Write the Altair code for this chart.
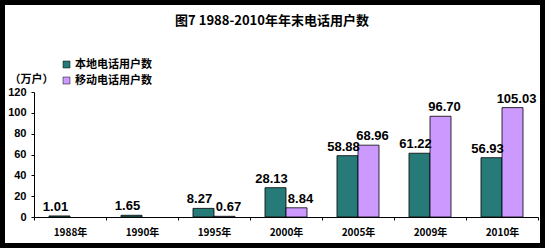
import altair as alt
import pandas as pd

title_text = "图7 1988-2010年年末电话用户数"
years = ["1988年", "1990年", "1995年", "2000年", "2005年", "2009年", "2010年"]
series = ["本地电话用户数", "移动电话用户数"]
fixed_line = [1.01, 1.65, 8.27, 28.13, 58.88, 61.22, 56.93]
mobile = [None, None, 0.67, 8.84, 68.96, 96.70, 105.03]
y_ticks = [0, 20, 40, 60, 80, 100, 120]
colors = ["#267a78", "#CC99FF"]

rows = []
for i, yr in enumerate(years):
    rows.append({"year": yr, "series": series[0], "value": fixed_line[i]})
    if mobile[i] is not None:
        rows.append({"year": yr, "series": series[1], "value": mobile[i]})
df = pd.DataFrame(rows)

NUM_FONT = "Liberation Sans"
CJK_FONT = "Noto Sans CJK SC"

x_enc = alt.X(
    "year:N", sort=years,
    scale=alt.Scale(paddingInner=0, paddingOuter=0),
    axis=alt.Axis(title=None, labelAngle=0, tickBand="extent", tickSize=3,
                  tickColor="black", domainColor="black", labelColor="black",
                  labelFont=CJK_FONT, labelFontSize=10, labelFontWeight="bold",
                  labelPadding=7, zindex=1),
)
xo_enc = alt.XOffset("series:N", sort=series,
                     scale=alt.Scale(paddingInner=0, paddingOuter=0.714))
y_enc = alt.Y(
    "value:Q",
    scale=alt.Scale(domain=[0, 120], nice=False),
    axis=alt.Axis(values=y_ticks, grid=False, tickSize=3, tickColor="black",
                  domainColor="black", labelColor="black", labelFont=NUM_FONT,
                  labelFontSize=11, labelFontWeight="bold", labelPadding=5,
                  title="（万户）", titleAngle=0, titleX=-25, titleY=-13,
                  titleAlign="left", titleBaseline="middle", titleFont=CJK_FONT,
                  titleFontSize=11, titleFontWeight="bold", titleColor="black",
                  zindex=1),
)

bars = alt.Chart(df).mark_bar(stroke="black", strokeWidth=0.8).encode(
    x=x_enc, xOffset=xo_enc, y=y_enc,
    color=alt.Color("series:N", sort=series,
                    scale=alt.Scale(domain=series, range=colors),
                    legend=alt.Legend(orient="none", legendX=27, legendY=-33,
                                      title=None, symbolType="square",
                                      symbolSize=49, labelFont=CJK_FONT,
                                      labelFontSize=11, labelFontWeight="bold",
                                      labelColor="black", rowPadding=4,
                                      labelOffset=3, padding=0,
                                      symbolStrokeColor="black",
                                      symbolStrokeWidth=0.5)),
)


def value_labels(name, shift):
    return alt.Chart(df).transform_filter(
        alt.datum.series == name
    ).mark_text(baseline="bottom", dy=-2, dx=shift, font=NUM_FONT,
                fontSize=13, fontWeight="bold", color="black").encode(
        x=x_enc, xOffset=xo_enc, y=y_enc,
        text=alt.Text("value:Q", format=".2f"),
    )


labels_a = value_labels(series[0], -4)
labels_b = value_labels(series[1], 4)

title = alt.Chart(alt.Data(values=[{"t": title_text}])).mark_text(
    font=CJK_FONT, fontSize=13, fontWeight="bold", color="black",
    align="center", baseline="middle"
).encode(x=alt.value(238), y=alt.value(-71), text="t:N")

frame = alt.Chart(alt.Data(values=[{}])).mark_rect(
    filled=False, stroke="black", strokeWidth=10
).encode(x=alt.value(-34), x2=alt.value(511), y=alt.value(-92), y2=alt.value(156))

chart = alt.layer(bars, labels_a, labels_b, title, frame).properties(
    width=504, height=125,
    padding={"left": 34, "top": 92, "right": 7, "bottom": 31},
    autosize="none",
    background="white",
).configure_view(stroke=None)

chart.save("out.html", embed_options={"renderer": "svg", "actions": False})
